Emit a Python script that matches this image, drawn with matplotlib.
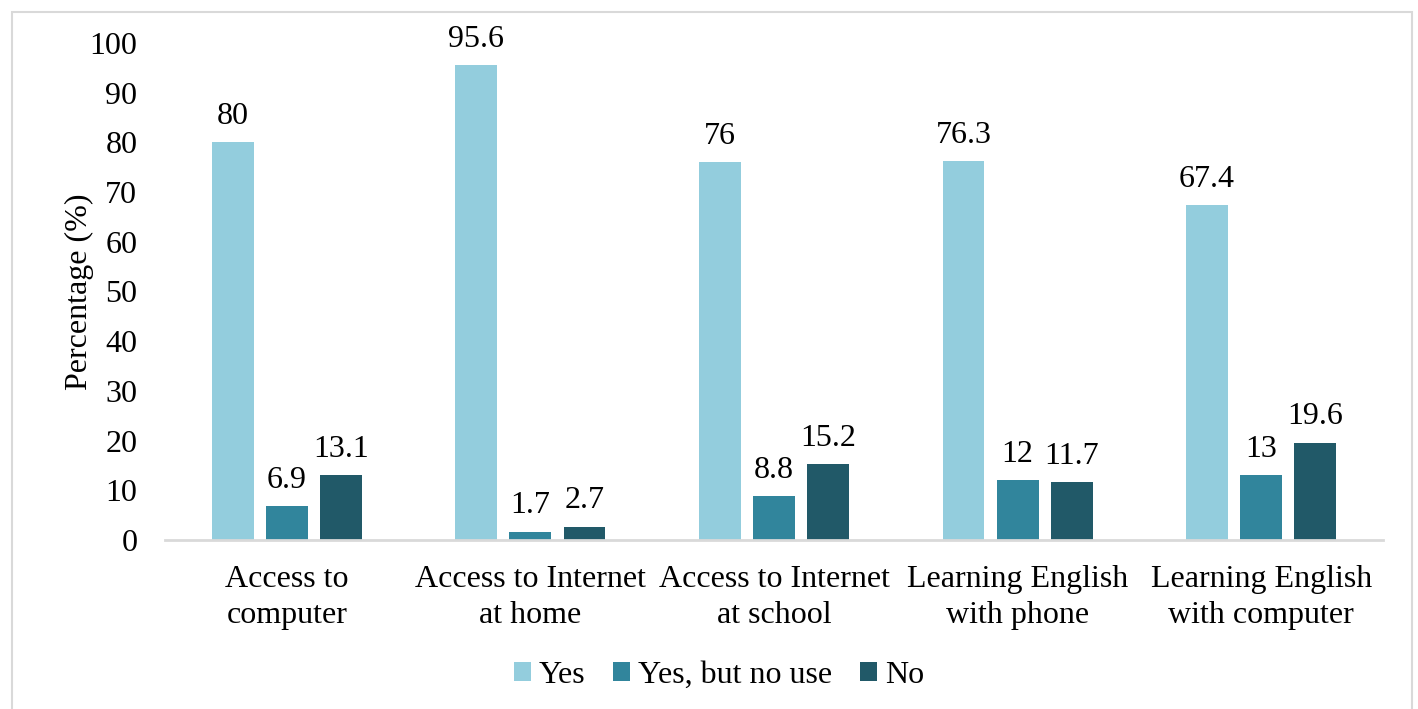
import numpy as np
import matplotlib.pyplot as plt
from matplotlib.patches import Rectangle

plt.rcParams['font.family'] = ['Liberation Serif', 'DejaVu Serif']

categories = ['Access to\ncomputer', 'Access to Internet\nat home', 'Access to Internet\nat school',
              'Learning English\nwith phone', 'Learning English\nwith computer']
yes = [80, 95.6, 76, 76.3, 67.4]
yes_no_use = [6.9, 1.7, 8.8, 12, 13]
no = [13.1, 2.7, 15.2, 11.7, 19.6]

series = [('Yes', yes, '#93CDDD'),
          ('Yes, but no use', yes_no_use, '#31859C'),
          ('No', no, '#215968')]

fig = plt.figure(figsize=(14.18, 7.09), dpi=100)
ax = fig.add_axes([0.1164, 0.2384, 0.8589, 0.701])

# light grey frame round the whole chart
fig.patches.append(Rectangle((12 / 1418, -0.01), 1400 / 1418, 1 - 12 / 709 + 0.01,
                             transform=fig.transFigure, fill=False,
                             edgecolor='#D9D9D9', linewidth=1.5))

x = np.arange(len(categories))
width = 0.172
step = 0.222
for i, (name, vals, color) in enumerate(series):
    bars = ax.bar(x + (i - 1) * step, vals, width, color=color, label=name)
    for b, v in zip(bars, vals):
        ax.annotate(f'{v:g}', (b.get_x() + b.get_width() / 2, v),
                    xytext=(0, 8), textcoords='offset points',
                    ha='center', va='bottom', fontsize=23)

ax.set_xlim(-0.5, 4.5)
ax.set_ylim(0, 100)
ax.set_yticks(range(0, 101, 10))
ax.set_xticks(x)
ax.set_xticklabels(categories, fontsize=23, linespacing=1.3)
ax.tick_params(axis='y', length=0, pad=20, labelsize=23)
ax.tick_params(axis='x', length=0, pad=18)
for s in ['top', 'right', 'left']:
    ax.spines[s].set_visible(False)
ax.spines['bottom'].set_color('#D9D9D9')
ax.spines['bottom'].set_linewidth(2)

ax.set_ylabel('Percentage (%)', fontsize=23, labelpad=-3)

fig.legend(loc='center', bbox_to_anchor=(0.507, 0.047), ncol=3, frameon=False,
           fontsize=23, handlelength=0.55, handleheight=0.55, handletextpad=0.25,
           columnspacing=0.85)

fig.savefig('out.png', dpi=100)
